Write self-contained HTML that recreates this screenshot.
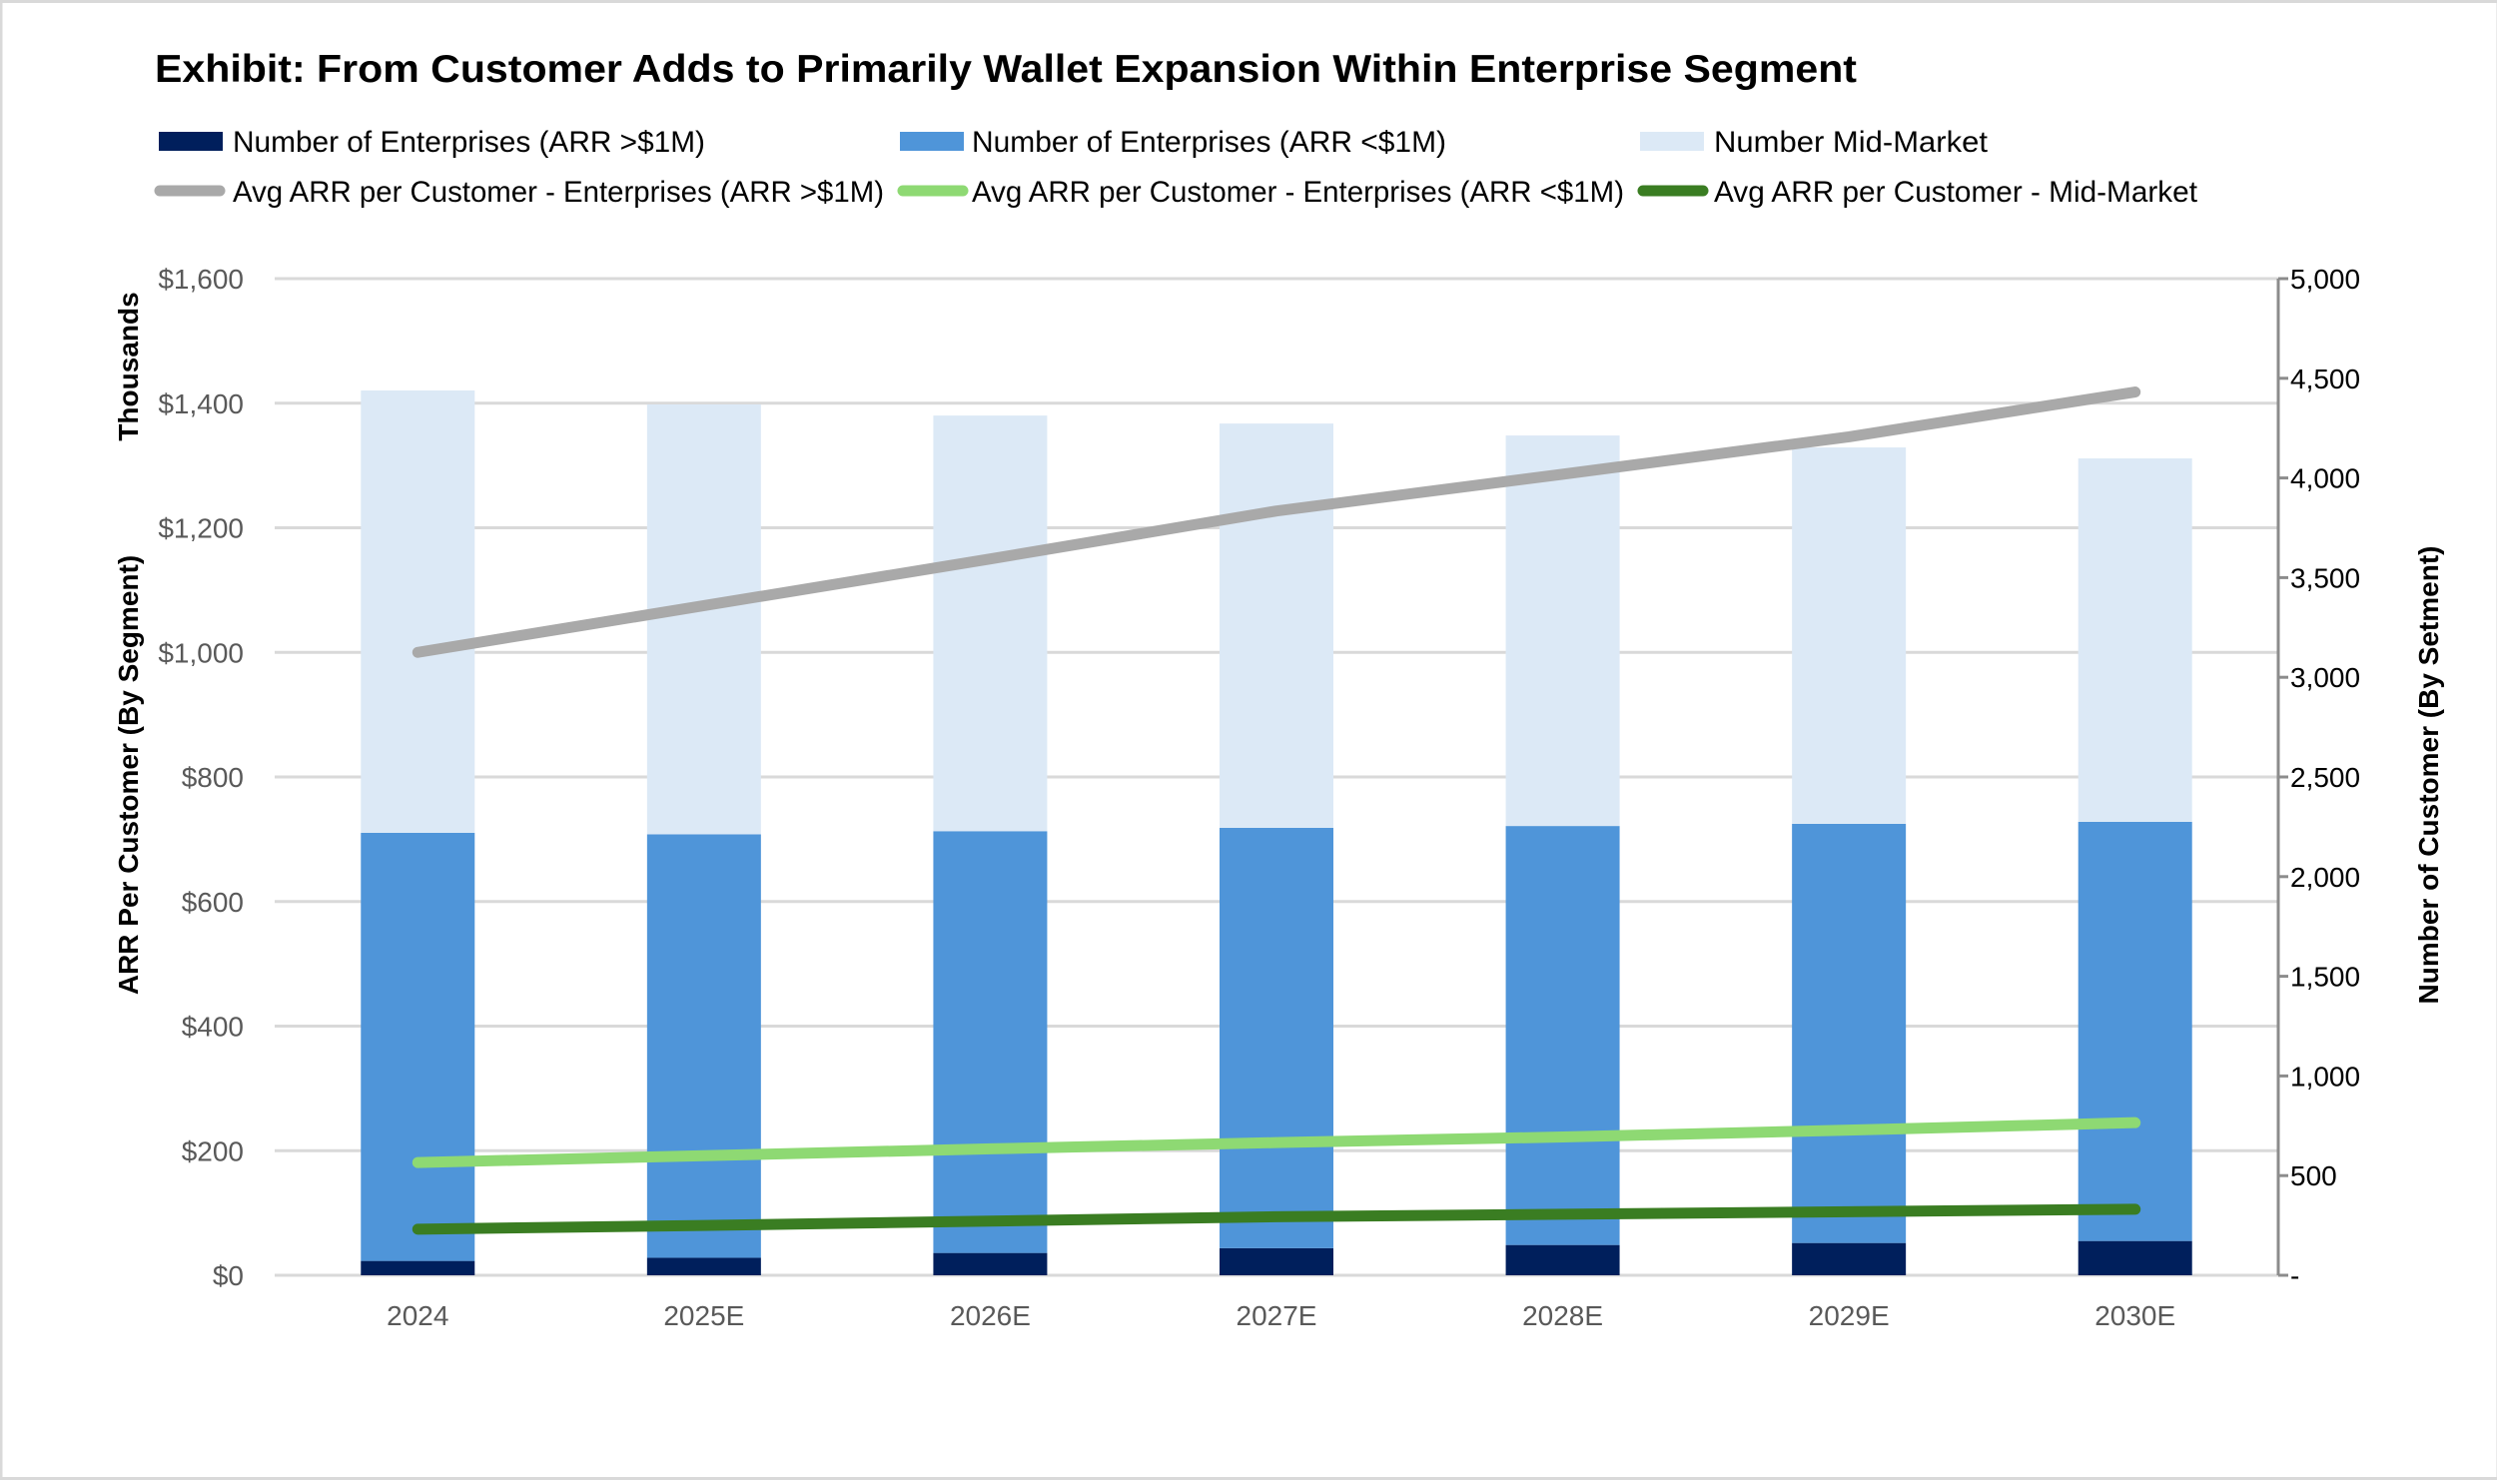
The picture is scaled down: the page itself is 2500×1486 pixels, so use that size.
<!DOCTYPE html>
<html><head><meta charset="utf-8"><style>
html,body{margin:0;padding:0;background:#fff;}
svg{display:block;}
text{font-family:"Liberation Sans",sans-serif;}
</style></head><body>
<svg id="chart" width="2500" height="1486" viewBox="0 0 2500 1486" xmlns="http://www.w3.org/2000/svg">
<rect x="1" y="1.5" width="2500" height="1479" fill="#fff" stroke="#d9d9d9" stroke-width="3"/>
<text x="155" y="82" font-size="39" font-weight="bold" textLength="1704" lengthAdjust="spacingAndGlyphs">Exhibit: From Customer Adds to Primarily Wallet Expansion Within Enterprise Segment</text>
<g>
<g><rect x="159" y="132" width="64" height="19" fill="#001f5c"/><text x="233" y="152" font-size="30" fill="#000" textLength="473" lengthAdjust="spacingAndGlyphs">Number of Enterprises (ARR &gt;$1M)</text></g>
<g><rect x="901" y="132" width="64" height="19" fill="#4f95d9"/><text x="973" y="152" font-size="30" fill="#000" textLength="475" lengthAdjust="spacingAndGlyphs">Number of Enterprises (ARR &lt;$1M)</text></g>
<g><rect x="1642" y="132" width="64" height="19" fill="#dce9f6"/><text x="1716" y="152" font-size="30" fill="#000" textLength="274" lengthAdjust="spacingAndGlyphs">Number Mid-Market</text></g>
<g><line x1="160" y1="191" x2="220" y2="191" stroke="#a9a9a9" stroke-width="11" stroke-linecap="round"/><text x="233" y="202" font-size="30" fill="#000" textLength="652" lengthAdjust="spacingAndGlyphs">Avg ARR per Customer - Enterprises (ARR &gt;$1M)</text></g>
<g><line x1="904" y1="191" x2="964" y2="191" stroke="#8ed973" stroke-width="11" stroke-linecap="round"/><text x="973" y="202" font-size="30" fill="#000" textLength="653" lengthAdjust="spacingAndGlyphs">Avg ARR per Customer - Enterprises (ARR &lt;$1M)</text></g>
<g><line x1="1645" y1="191" x2="1705" y2="191" stroke="#3a7d22" stroke-width="11" stroke-linecap="round"/><text x="1716" y="202" font-size="30" fill="#000" textLength="484" lengthAdjust="spacingAndGlyphs">Avg ARR per Customer - Mid-Market</text></g>
</g>
<g id="grid"></g>
<g id="bars"></g>
<g id="lines"></g>
<g id="axes"></g>
<text transform="translate(138,776) rotate(-90)" text-anchor="middle" font-size="28" font-weight="bold">ARR Per Customer (By Segment)</text>
<text transform="translate(138,367) rotate(-90)" text-anchor="middle" font-size="28" font-weight="bold">Thousands</text>
<text transform="translate(2441,776) rotate(-90)" text-anchor="middle" font-size="28" font-weight="bold">Number of Customer (By Setment)</text>
</svg>
<script>
const categories=["2024","2025E","2026E","2027E","2028E","2029E","2030E"];
const entOver1M=[72,88,112,136,152,162,172];
const entUnder1M=[2148,2124,2116,2109,2102,2103,2103];
const midMarket=[2219,2157,2085,2028,1959,1888,1823];
const avgArrEntOver1M=[1000,1075,1150,1227,1286,1346,1418];
const avgArrEntUnder1M=[181,192,203,213,222,233,245];
const avgArrMidMarket=[74,80,87,94,98,102,106];
const leftTicks=[0,200,400,600,800,1000,1200,1400,1600];
const leftTickLabels=["$0","$200","$400","$600","$800","$1,000","$1,200","$1,400","$1,600"];
const rightTicks=[0,500,1000,1500,2000,2500,3000,3500,4000,4500,5000];
const rightTickLabels=["-","500","1,000","1,500","2,000","2,500","3,000","3,500","4,000","4,500","5,000"];

const NS="http://www.w3.org/2000/svg";
const X0=275,X1=2281,Y0=1277,Y1=279;
const band=(X1-X0)/categories.length,barW=114;
const xC=i=>X0+band*(i+0.5);
const yL=v=>Y0-(v/1600)*(Y0-Y1);
const yR=v=>Y0-(v/5000)*(Y0-Y1);
function mk(tag,attrs,parent){const e=document.createElementNS(NS,tag);for(const k in attrs)e.setAttribute(k,attrs[k]);parent.appendChild(e);return e;}
const grid=document.getElementById('grid'),bars=document.getElementById('bars'),lines=document.getElementById('lines'),axes=document.getElementById('axes');
leftTicks.forEach((t,i)=>{
  const g=mk('line',{x1:X0,x2:X1,y1:yL(t),y2:yL(t),stroke:'#d9d9d9','stroke-width':3},grid);
  
  
  const tx=mk('text',{x:244,y:yL(t)+10,'text-anchor':'end','font-size':28,fill:'#595959'},axes);
  tx.textContent=leftTickLabels[i];
  
  
});
const ax=mk('line',{x1:X1,x2:X1,y1:Y1,y2:Y0,stroke:'#8c8c8c','stroke-width':3},axes);


rightTicks.forEach((t,i)=>{
  const tk=mk('line',{x1:X1,x2:X1+10,y1:yR(t),y2:yR(t),stroke:'#8c8c8c','stroke-width':3},axes);
  
  
  const tx=mk('text',{x:2293,y:yR(t)+10,'font-size':28,fill:'#000'},axes);
  tx.textContent=rightTickLabels[i];
  
  
});
categories.forEach((c,i)=>{
  const x=xC(i)-barW/2;
  let base=0;
  [[entOver1M,'#001f5c','bar-enterprises-over-1m'],[entUnder1M,'#4f95d9','bar-enterprises-under-1m'],[midMarket,'#dce9f6','bar-mid-market']].forEach(([arr,col,nm])=>{
    const top=base+arr[i];
    const r=mk('rect',{x:x,y:yR(top),width:barW,height:yR(base)-yR(top),fill:col},bars);
    
    
    base=top;
  });
  const tx=mk('text',{x:xC(i),y:1327,'text-anchor':'middle','font-size':28,fill:'#595959'},axes);
  tx.textContent=c;
  
  
});
[[avgArrEntOver1M,'#a9a9a9','line-avg-arr-enterprises-over-1m'],[avgArrEntUnder1M,'#8ed973','line-avg-arr-enterprises-under-1m'],[avgArrMidMarket,'#3a7d22','line-avg-arr-mid-market']].forEach(([arr,col,nm])=>{
  const pts=arr.map((v,i)=>xC(i)+','+yL(v)).join(' ');
  const p=mk('polyline',{points:pts,fill:'none',stroke:col,'stroke-width':11,'stroke-linecap':'round','stroke-linejoin':'round'},lines);
  
  
});
</script>
</body></html>
